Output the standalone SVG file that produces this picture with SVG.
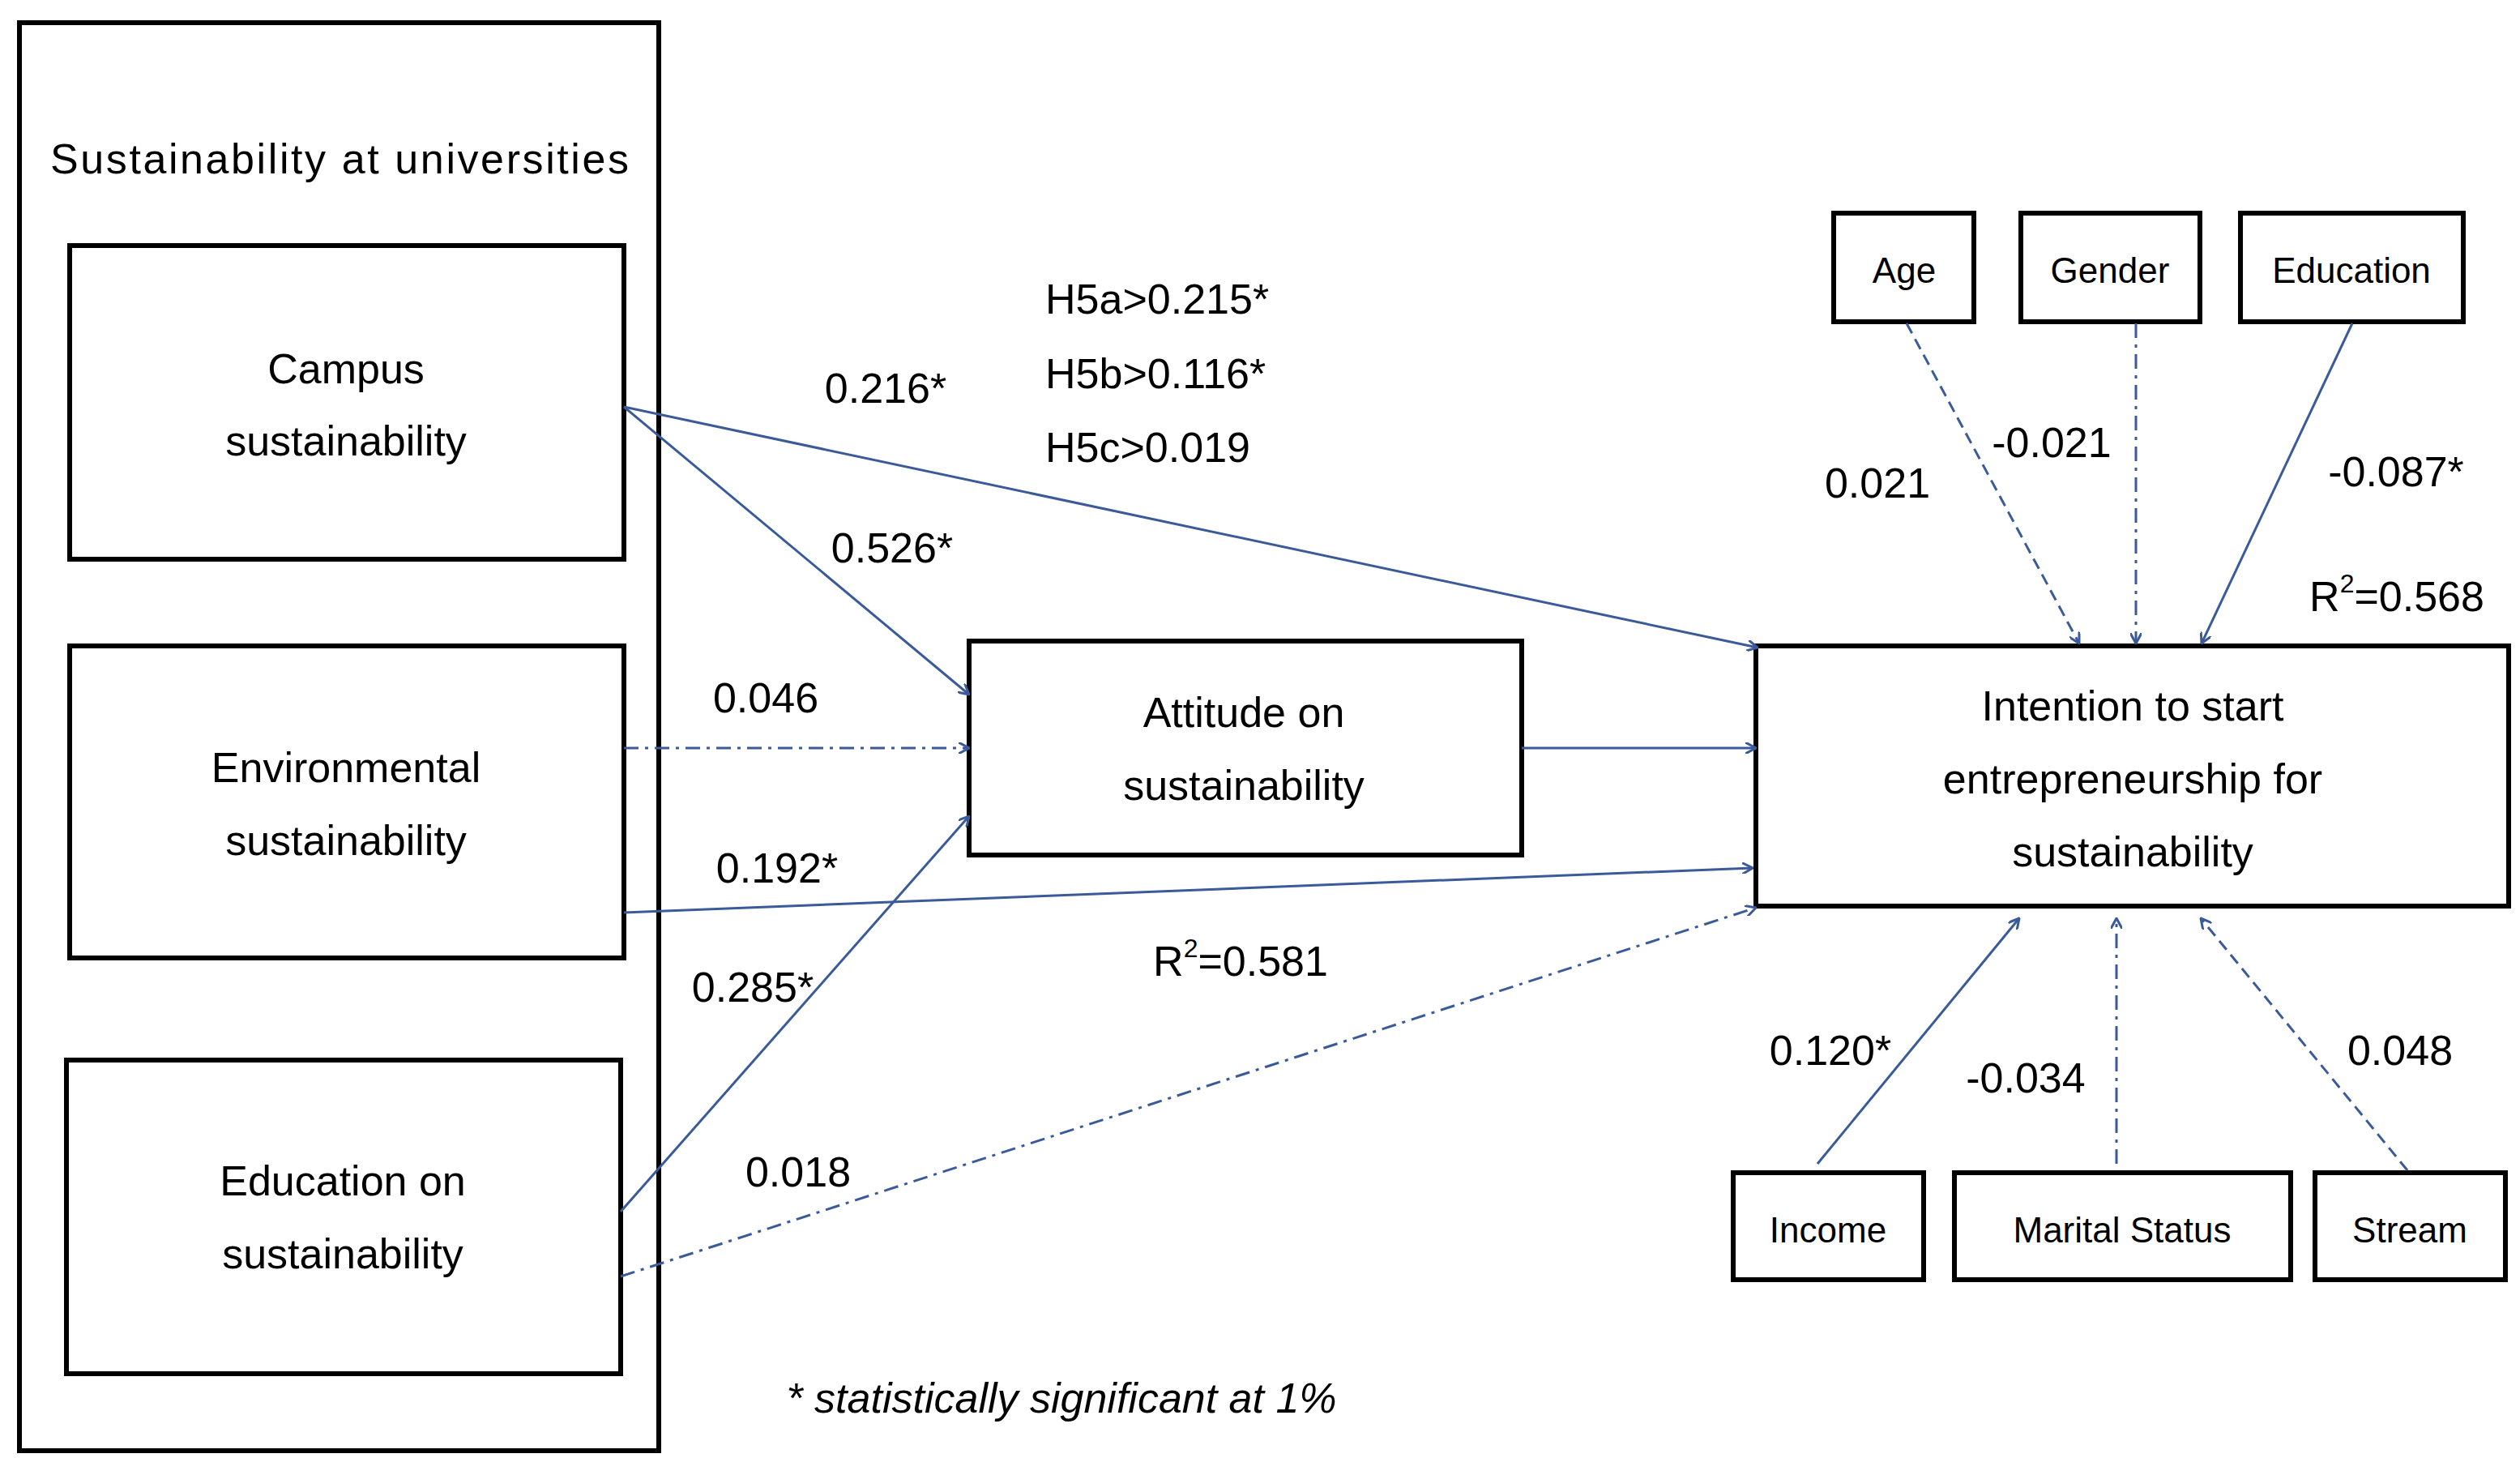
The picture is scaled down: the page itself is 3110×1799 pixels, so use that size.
<svg xmlns="http://www.w3.org/2000/svg" width="3110" height="1799" viewBox="0 0 3110 1799">
<style>
.box{fill:#fff;stroke:#000;stroke-width:6}
.t{font-family:"Liberation Sans",Arial,sans-serif;font-size:52px;fill:#000;text-anchor:middle;dominant-baseline:central}
.s{font-size:44px}
.l{text-anchor:start}
.c{stroke:#3a5a9a;stroke-width:3;fill:none;marker-end:url(#a)}
.dd{stroke-dasharray:18 8 4 8}
.da{stroke-dasharray:14 8}
</style>
<defs><marker id="a" markerWidth="14" markerHeight="14" refX="13" refY="7" orient="auto" markerUnits="userSpaceOnUse"><path d="M0,0 L13,7 L0,14" fill="none" stroke="#3a5a9a" stroke-width="3"/></marker></defs>
<rect width="3110" height="1799" fill="#fff"/>
<g id="outer"><rect class="box" x="24" y="28" width="789" height="1762"/><text class="t" x="419" y="196" textLength="714">Sustainability at universities</text></g>
<g id="campus"><rect class="box" x="86" y="303" width="684" height="387"/><text class="t" x="427" y="455">Campus</text><text class="t" x="427" y="544">sustainability</text></g>
<g id="env"><rect class="box" x="86" y="797" width="684" height="385"/><text class="t" x="427" y="947">Environmental</text><text class="t" x="427" y="1037">sustainability</text></g>
<g id="edu"><rect class="box" x="82" y="1308" width="684" height="387"/><text class="t" x="423" y="1457">Education on</text><text class="t" x="423" y="1547">sustainability</text></g>
<g id="attitude"><rect class="box" x="1196" y="791" width="682" height="264"/><text class="t" x="1535" y="879">Attitude on</text><text class="t" x="1535" y="969">sustainability</text></g>
<g id="intention"><rect class="box" x="2167" y="797" width="929" height="321"/><text class="t" x="2632" y="871">Intention to start</text><text class="t" x="2632" y="961">entrepreneurship  for</text><text class="t" x="2632" y="1051">sustainability</text></g>
<g id="age"><rect class="box" x="2263" y="263" width="173" height="134"/><text class="t s" x="2350" y="333">Age</text></g>
<g id="gender"><rect class="box" x="2494" y="263" width="221" height="134"/><text class="t s" x="2604" y="333">Gender</text></g>
<g id="education"><rect class="box" x="2765" y="263" width="275" height="134"/><text class="t s" x="2902" y="333">Education</text></g>
<g id="income"><rect class="box" x="2139" y="1447" width="235" height="132"/><text class="t s" x="2256" y="1517">Income</text></g>
<g id="marital"><rect class="box" x="2412" y="1447" width="415" height="132"/><text class="t s" x="2619" y="1517">Marital Status</text></g>
<g id="stream"><rect class="box" x="2857" y="1447" width="235" height="132"/><text class="t s" x="2974" y="1517">Stream</text></g>
<g id="connectors">
<line class="c" x1="770" y1="502" x2="2169" y2="799"/>
<line class="c" x1="770" y1="502" x2="1196" y2="857"/>
<line class="c dd" x1="770" y1="923" x2="1196" y2="923"/>
<line class="c" x1="770" y1="1126" x2="2163" y2="1071"/>
<line class="c" x1="766" y1="1495" x2="1196" y2="1007"/>
<line class="c dd" x1="766" y1="1575" x2="2167" y2="1120"/>
<line class="c" x1="1878" y1="923" x2="2167" y2="923"/>
<line class="c da" x1="2353" y1="399" x2="2566" y2="794"/>
<line class="c dd" x1="2636" y1="399" x2="2636" y2="794"/>
<line class="c" x1="2903" y1="399" x2="2717" y2="794"/>
<line class="c" x1="2243" y1="1436" x2="2492" y2="1133"/>
<line class="c dd" x1="2612" y1="1436" x2="2612" y2="1133"/>
<line class="c da" x1="2971" y1="1444" x2="2716" y2="1133"/>
</g>
<g id="labels">
<text class="t" x="1093" y="479">0.216*</text>
<text class="t l" x="1290" y="369">H5a&gt;0.215*</text>
<text class="t l" x="1290" y="461">H5b&gt;0.116*</text>
<text class="t l" x="1290" y="552">H5c&gt;0.019</text>
<text class="t" x="1101" y="676">0.526*</text>
<text class="t" x="945" y="861">0.046</text>
<text class="t" x="959" y="1071">0.192*</text>
<text class="t" x="929" y="1218">0.285*</text>
<text class="t" x="985" y="1446">0.018</text>
<text class="t" x="1531" y="1186">R<tspan font-size="32" dy="-16">2</tspan><tspan dy="16">=0.581</tspan></text>
<text class="t" x="2317" y="596">0.021</text>
<text class="t" x="2532" y="546">-0.021</text>
<text class="t" x="2957" y="582">-0.087*</text>
<text class="t" x="2958" y="736">R<tspan font-size="32" dy="-16">2</tspan><tspan dy="16">=0.568</tspan></text>
<text class="t" x="2259" y="1296">0.120*</text>
<text class="t" x="2500" y="1330">-0.034</text>
<text class="t" x="2962" y="1296">0.048</text>
<text class="t" x="1310" y="1725" font-style="italic">* statistically significant at 1%</text>
</g>
</svg>
